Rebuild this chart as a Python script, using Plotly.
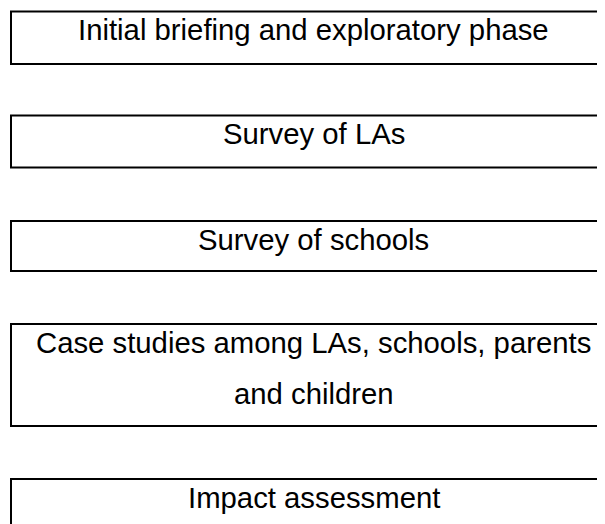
import plotly.graph_objects as go

# Stages of the study (each box, lines of text within)
stage_lines = [
    ["Initial briefing and exploratory phase"],
    ["Survey of LAs"],
    ["Survey of schools"],
    ["Case studies among LAs, schools, parents", "and children"],
    ["Impact assessment"],
]

# Box geometry (pixel space of the 605x524 window)
box_top = [11.5, 115.5, 221, 324, 479]
box_bottom = [64, 167.5, 271, 426, 531]
box_left = 11
box_right = 616
text_center_x = 313.5
first_line_offset = 18   # from box top to centre of first text line
line_gap = 51
page_offset = 8            # default body margin of the html page

fig = go.Figure()
for top, bottom, lines in zip(box_top, box_bottom, stage_lines):
    fig.add_shape(type="rect", xref="x", yref="y",
                  x0=box_left, x1=box_right, y0=top, y1=bottom,
                  line=dict(color="black", width=2), fillcolor="white", layer="below")
    for i, line in enumerate(lines):
        fig.add_annotation(x=text_center_x, y=top + first_line_offset + i * line_gap,
                           xref="x", yref="y", text=line, showarrow=False,
                           xanchor="center", yanchor="middle",
                           font=dict(family="Liberation Sans, Arial", size=29.3, color="black"))

fig.update_xaxes(range=[page_offset, 605], visible=False)
fig.update_yaxes(range=[524, page_offset], visible=False)
fig.update_layout(width=605 - page_offset, height=524 - page_offset,
                  margin=dict(l=0, r=0, t=0, b=0),
                  plot_bgcolor="white", paper_bgcolor="white", showlegend=False)
fig.write_html("out.html")
